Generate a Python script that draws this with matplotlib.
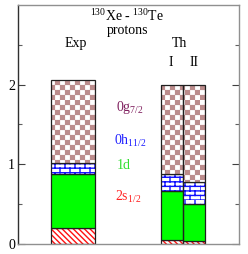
import warnings
warnings.filterwarnings('ignore')
import numpy as np
import matplotlib
matplotlib.use('Agg')
import matplotlib.pyplot as plt
import matplotlib.hatch as mhatch
from matplotlib.path import Path

# ---------------- data ----------------
columns = ['Exp', 'Th I', 'Th II']
s12 = [0.20, 0.05, 0.03]      # 2s1/2
d1 = [0.67, 0.61, 0.47]       # 1d  (increment)
h112 = [0.14, 0.22, 0.27]     # 0h11/2 (increment)
g72 = [1.05, 1.12, 1.23]      # 0g7/2 (increment)
orbital_labels = [r'$\mathregular{0g_{7/2}}$', r'$\mathregular{0h_{11/2}}$',
                  r'$\mathregular{1d}$', r'$\mathregular{2s_{1/2}}$']
yticks = [0, 1, 2]

# ---------------- custom hatches ----------------
class CheckerHatch(mhatch.HatchPatternBase):
    def __init__(self, hatch, density):
        self.n = 20
        self.on = 'c' in hatch
        self.num_vertices = (5 * (self.n * self.n // 2)) if self.on else 0

    def set_vertices_and_codes(self, vertices, codes):
        n = self.n
        s = 1.0 / n
        e = 0.006
        k = 0
        for i in range(n):
            for j in range(n):
                if (i + j) % 2 == 0:
                    x0, y0 = i * s + e, j * s + e
                    x1, y1 = (i + 1) * s - e, (j + 1) * s - e
                    vertices[k:k + 5] = [[x0, y0], [x1, y0], [x1, y1], [x0, y1], [x0, y0]]
                    codes[k:k + 5] = [Path.MOVETO, Path.LINETO, Path.LINETO,
                                      Path.LINETO, Path.CLOSEPOLY]
                    k += 5


class BrickHatch(mhatch.HatchPatternBase):
    def __init__(self, hatch, density):
        self.rows = 22
        self.cols = 10
        self.on = 'b' in hatch
        self.num_vertices = (2 * self.rows + 2 * self.rows * self.cols) if self.on else 0

    def set_vertices_and_codes(self, vertices, codes):
        r, c = self.rows, self.cols
        k = 0
        for i in range(r):
            y = i / r
            vertices[k:k + 2] = [[0, y], [1, y]]
            codes[k:k + 2] = [Path.MOVETO, Path.LINETO]
            k += 2
        for i in range(r):
            y0, y1 = i / r, (i + 1) / r
            off = 0.5 / c if i % 2 else 0.0
            for j in range(c):
                x = j / c + off
                vertices[k:k + 2] = [[x, y0], [x, y1]]
                codes[k:k + 2] = [Path.MOVETO, Path.LINETO]
                k += 2


mhatch._hatch_types.append(CheckerHatch)
mhatch._hatch_types.append(BrickHatch)

# ---------------- figure ----------------
plt.rcParams['font.family'] = ['Liberation Serif', 'DejaVu Serif']
plt.rcParams['mathtext.default'] = 'regular'
plt.rcParams['hatch.linewidth'] = 1.0

fig = plt.figure(figsize=(2.48, 2.54), dpi=100)
ax = fig.add_axes([0.0726, 0.0413, 0.891, 0.9387])

xpos = [0.2485, 0.697, 0.797]
widths = [0.2, 0.1, 0.1]

segs = [
    (s12, '\\' * 6, '#ff1010', 'white'),
    (d1, None, None, '#00ff00'),
    (h112, 'b', '#1010ff', 'white'),
    (g72, 'c', '#bb8c8c', 'white'),
]
bottom = np.zeros(len(columns))
for vals, hatch, hcol, face in segs:
    vals = np.array(vals)
    if hatch:
        ax.bar(xpos, vals, width=widths, bottom=bottom, color=face,
               edgecolor=hcol, hatch=hatch, linewidth=0)
    else:
        ax.bar(xpos, vals, width=widths, bottom=bottom, color=face, linewidth=0)
    ax.bar(xpos, vals, width=widths, bottom=bottom, fill=False,
           edgecolor='#202020', linewidth=0.9)
    bottom = bottom + vals

ax.set_xlim(0, 1)
ax.set_ylim(0, 3)
ax.set_xticks([])
ax.set_yticks(yticks)
ax.set_yticks([0.5, 1.5, 2.5], minor=True)
ax.tick_params(axis='y', which='major', direction='in', length=5, width=0.8,
               color='#404040', right=True, labelsize=10, pad=2)
ax.tick_params(axis='y', which='minor', direction='in', length=3, width=0.8,
               color='#606060', right=True)
for side in ['top', 'right', 'bottom']:
    ax.spines[side].set_color('#909090')
    ax.spines[side].set_linewidth(1.0)
ax.spines['left'].set_color('#303030')
ax.spines['left'].set_linewidth(1.0)

tr = ax.transAxes
ax.text(0.495, 0.955, r'$\mathregular{^{130}Xe}$ - $\mathregular{^{130}Te}$', transform=tr,
        ha='center', va='center', fontsize=10)
ax.text(0.495, 0.893, 'protons', transform=tr, ha='center', va='center', fontsize=10)
ax.text(0.262, 0.838, 'Exp', transform=tr, ha='center', va='center', fontsize=10)
ax.text(0.733, 0.838, 'Th', transform=tr, ha='center', va='center', fontsize=10)
ax.text(0.692, 0.76, 'I', transform=tr, ha='center', va='center', fontsize=10)
ax.text(0.795, 0.76, 'II', transform=tr, ha='center', va='center', fontsize=10)

label_cols = ['#80205f', '#2020ff', '#30e030', '#ff2020']
label_y = [0.572, 0.43, 0.33, 0.195]
label_x = [0.505, 0.51, 0.48, 0.5]
for lab, c, lx, ly in zip(orbital_labels, label_cols, label_x, label_y):
    ax.text(lx, ly, lab, transform=tr, ha='center', va='center', fontsize=10, color=c)

fig.savefig('out.png', dpi=100)
